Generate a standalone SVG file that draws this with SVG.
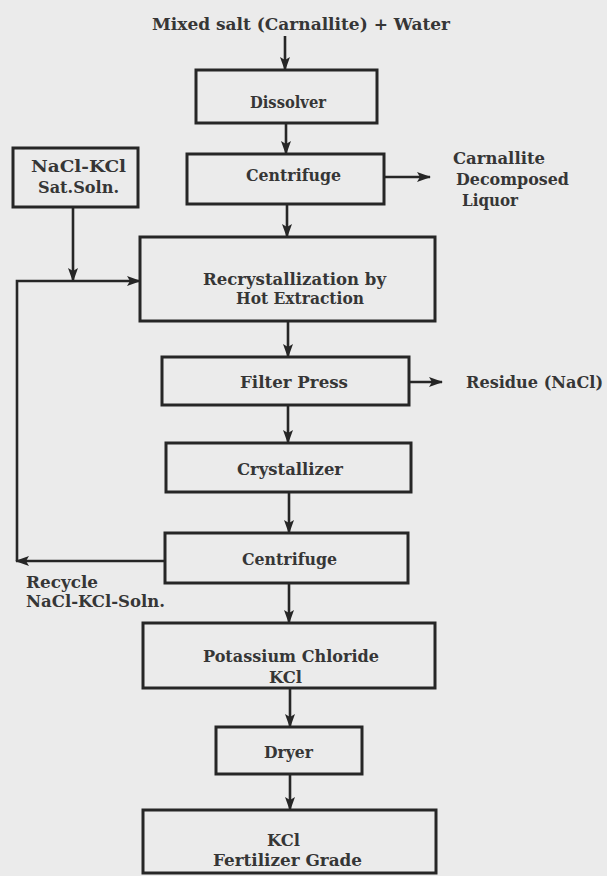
<svg xmlns="http://www.w3.org/2000/svg" width="607" height="876" viewBox="0 0 607 876">
<style>
  .box { fill: none; stroke: #262626; stroke-width: 3; }
  .ln { fill: none; stroke: #262626; stroke-width: 2.6; }
  text { font-family: "DejaVu Serif", "Liberation Serif", serif; font-weight: bold; font-size: 16px; fill: #363636; }
</style>
<defs>
  <marker id="ah" markerUnits="userSpaceOnUse" markerWidth="14" markerHeight="12" viewBox="0 0 14 12" refX="13" refY="6" orient="auto">
    <path d="M0,1 L14,6 L0,11 L3,6 Z" fill="#262626"/>
  </marker>
</defs>
<rect x="0" y="0" width="607" height="876" fill="#ebebeb"/>

<text id="title" x="152" y="30" textLength="298" lengthAdjust="spacingAndGlyphs">Mixed salt (Carnallite) + Water</text>

<g id="connectors">
  <path class="ln" d="M285,36 V70" marker-end="url(#ah)"/>
  <path class="ln" d="M286,123 V154" marker-end="url(#ah)"/>
  <path class="ln" d="M384,177 H430" marker-end="url(#ah)"/>
  <path class="ln" d="M287,204 V237" marker-end="url(#ah)"/>
  <path class="ln" d="M73,207 V281" marker-end="url(#ah)"/>
  <path class="ln" d="M165,561 H16" marker-end="url(#ah)"/>
  <path class="ln" d="M17,561 V281 H140" marker-end="url(#ah)"/>
  <path class="ln" d="M288,321 V357" marker-end="url(#ah)"/>
  <path class="ln" d="M409,382 H442" marker-end="url(#ah)"/>
  <path class="ln" d="M288,405 V443" marker-end="url(#ah)"/>
  <path class="ln" d="M289,492 V533" marker-end="url(#ah)"/>
  <path class="ln" d="M289,583 V623" marker-end="url(#ah)"/>
  <path class="ln" d="M290,688 V727" marker-end="url(#ah)"/>
  <path class="ln" d="M290,774 V810" marker-end="url(#ah)"/>
</g>

<g id="dissolver">
  <rect class="box" x="196" y="70" width="181" height="53"/>
  <text x="250" y="108" textLength="76" lengthAdjust="spacingAndGlyphs">Dissolver</text>
</g>

<g id="centrifuge1">
  <rect class="box" x="187" y="154" width="197" height="50"/>
  <text x="246" y="181" textLength="95" lengthAdjust="spacingAndGlyphs">Centrifuge</text>
</g>

<g id="carnallite-liquor">
  <text x="453" y="164" textLength="92" lengthAdjust="spacingAndGlyphs">Carnallite</text>
  <text x="456" y="185" textLength="113" lengthAdjust="spacingAndGlyphs">Decomposed</text>
  <text x="462" y="206" textLength="56" lengthAdjust="spacingAndGlyphs">Liquor</text>
</g>

<g id="nacl-kcl-sat">
  <rect class="box" x="13" y="148" width="125" height="59"/>
  <text x="31" y="172" textLength="95" lengthAdjust="spacingAndGlyphs">NaCl-KCl</text>
  <text x="38" y="193" textLength="81" lengthAdjust="spacingAndGlyphs">Sat.Soln.</text>
</g>

<g id="recrystallization">
  <rect class="box" x="140" y="237" width="295" height="84"/>
  <text x="203" y="285" textLength="183" lengthAdjust="spacingAndGlyphs">Recrystallization by</text>
  <text x="236" y="304" textLength="128" lengthAdjust="spacingAndGlyphs">Hot Extraction</text>
</g>

<g id="filter-press">
  <rect class="box" x="162" y="357" width="247" height="48"/>
  <text x="240" y="388" textLength="108" lengthAdjust="spacingAndGlyphs">Filter Press</text>
</g>

<g id="residue">
  <text x="466" y="388" textLength="137" lengthAdjust="spacingAndGlyphs">Residue (NaCl)</text>
</g>

<g id="crystallizer">
  <rect class="box" x="166" y="443" width="245" height="49"/>
  <text x="237" y="475" textLength="106" lengthAdjust="spacingAndGlyphs">Crystallizer</text>
</g>

<g id="centrifuge2">
  <rect class="box" x="165" y="533" width="243" height="50"/>
  <text x="242" y="565" textLength="95" lengthAdjust="spacingAndGlyphs">Centrifuge</text>
</g>

<g id="recycle">
  <text x="26" y="588" textLength="72" lengthAdjust="spacingAndGlyphs">Recycle</text>
  <text x="26" y="607" textLength="139" lengthAdjust="spacingAndGlyphs">NaCl-KCl-Soln.</text>
</g>

<g id="potassium-chloride">
  <rect class="box" x="143" y="623" width="292" height="65"/>
  <text x="203" y="662" textLength="176" lengthAdjust="spacingAndGlyphs">Potassium Chloride</text>
  <text x="269" y="683" textLength="33" lengthAdjust="spacingAndGlyphs">KCl</text>
</g>

<g id="dryer">
  <rect class="box" x="216" y="727" width="146" height="47"/>
  <text x="264" y="758" textLength="49" lengthAdjust="spacingAndGlyphs">Dryer</text>
</g>

<g id="kcl-fertilizer">
  <rect class="box" x="143" y="810" width="293" height="63"/>
  <text x="267" y="846" textLength="33" lengthAdjust="spacingAndGlyphs">KCl</text>
  <text x="213" y="866" textLength="149" lengthAdjust="spacingAndGlyphs">Fertilizer Grade</text>
</g>
</svg>
